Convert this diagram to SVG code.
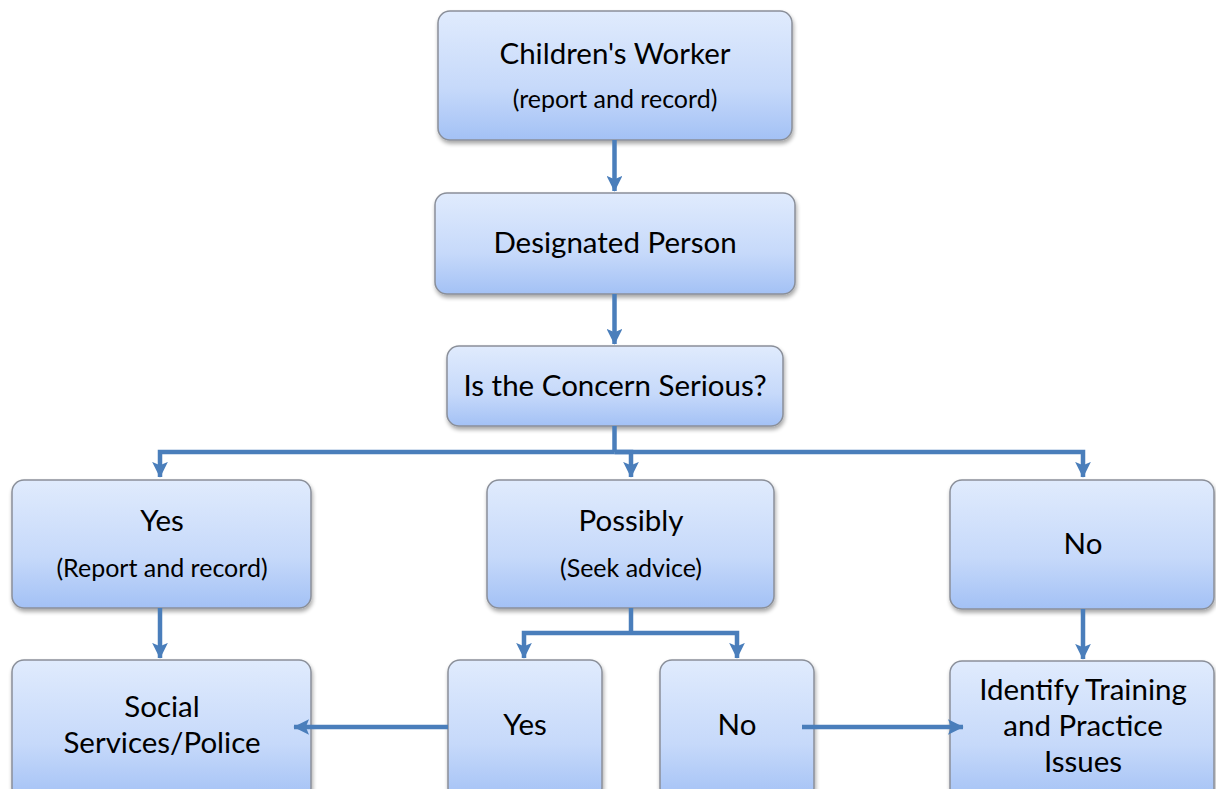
<svg xmlns="http://www.w3.org/2000/svg" width="1216" height="789" viewBox="0 0 1216 789">
<defs>
<linearGradient id="g" x1="0" y1="0" x2="0" y2="1">
<stop offset="0" stop-color="#e0ebfd"/>
<stop offset="0.6" stop-color="#c6d9fa"/>
<stop offset="1" stop-color="#a3c1f5"/>
</linearGradient>
<filter id="sh" x="-10%" y="-10%" width="120%" height="125%">
<feGaussianBlur in="SourceAlpha" stdDeviation="2"/>
<feOffset dx="1" dy="3" result="b"/>
<feComponentTransfer><feFuncA type="linear" slope="0.35"/></feComponentTransfer>
<feMerge><feMergeNode/><feMergeNode in="SourceGraphic"/></feMerge>
</filter>
<marker id="ah" viewBox="0 0 12 12" refX="11.5" refY="6" markerWidth="3.5" markerHeight="3.5" orient="auto" markerUnits="strokeWidth">
<path d="M0,0 L12,6 L0,12 L2.5,6 Z" fill="#4a7ebb"/>
</marker>
</defs>
<style>
.box{fill:url(#g);stroke:#8a8f99;stroke-width:1.5;filter:url(#sh)}
.t{font-family:Lato,"Open Sans","Liberation Sans",sans-serif;fill:#000;text-anchor:middle}
.big{font-size:29.5px}
.sm{font-size:25px}
.c{fill:none;stroke:#4a7ebb;stroke-width:4.5}
</style>
<g id="n1"><rect class="box" x="438" y="11" width="354" height="129" rx="12"/>
<text class="t big" x="615" y="64">Children's Worker</text>
<text class="t sm" x="615" y="108">(report and record)</text></g>
<g id="n2"><rect class="box" x="435" y="193" width="360" height="101" rx="12"/>
<text class="t big" x="615" y="253">Designated Person</text></g>
<g id="n3"><rect class="box" x="447" y="346" width="336" height="80" rx="12"/>
<text class="t big" x="615" y="396">Is the Concern Serious?</text></g>
<g id="n4"><rect class="box" x="12" y="480" width="299" height="128" rx="12"/>
<text class="t big" x="162" y="531">Yes</text>
<text class="t sm" x="162" y="577">(Report and record)</text></g>
<g id="n5"><rect class="box" x="487" y="480" width="287" height="128" rx="12"/>
<text class="t big" x="631" y="531">Possibly</text>
<text class="t sm" x="631" y="577">(Seek advice)</text></g>
<g id="n6"><rect class="box" x="950" y="480" width="264" height="129" rx="12"/>
<text class="t big" x="1083" y="554">No</text></g>
<g id="n7"><rect class="box" x="12" y="660" width="299" height="140" rx="12"/>
<text class="t big" x="162" y="717">Social</text>
<text class="t big" x="162" y="753">Services/Police</text></g>
<g id="n8"><rect class="box" x="448" y="660" width="154" height="140" rx="12"/>
<text class="t big" x="525" y="735">Yes</text></g>
<g id="n9"><rect class="box" x="660" y="660" width="154" height="140" rx="12"/>
<text class="t big" x="737" y="735">No</text></g>
<g id="n10"><rect class="box" x="950" y="661" width="264" height="140" rx="12"/>
<text class="t big" x="1083" y="700">Identify Training</text>
<text class="t big" x="1083" y="736">and Practice</text>
<text class="t big" x="1083" y="772">Issues</text></g>
<g id="connectors">
<path class="c" d="M614.5,140 V191" marker-end="url(#ah)"/>
<path class="c" d="M614.5,294 V344" marker-end="url(#ah)"/>
<path class="c" d="M614.5,426 V452"/>
<path class="c" d="M614.5,452 H160 V477" marker-end="url(#ah)"/>
<path class="c" d="M614.5,452 H631 V477" marker-end="url(#ah)"/>
<path class="c" d="M614.5,452 H1083 V477" marker-end="url(#ah)"/>
<path class="c" d="M160,608 V658" marker-end="url(#ah)"/>
<path class="c" d="M631,608 V633"/>
<path class="c" d="M631,633 H524 V658" marker-end="url(#ah)"/>
<path class="c" d="M631,633 H737 V658" marker-end="url(#ah)"/>
<path class="c" d="M1083,609 V659" marker-end="url(#ah)"/>
<path class="c" d="M448,727 H294" marker-end="url(#ah)"/>
<path class="c" d="M802,727 H963" marker-end="url(#ah)"/>
</g>
</svg>
